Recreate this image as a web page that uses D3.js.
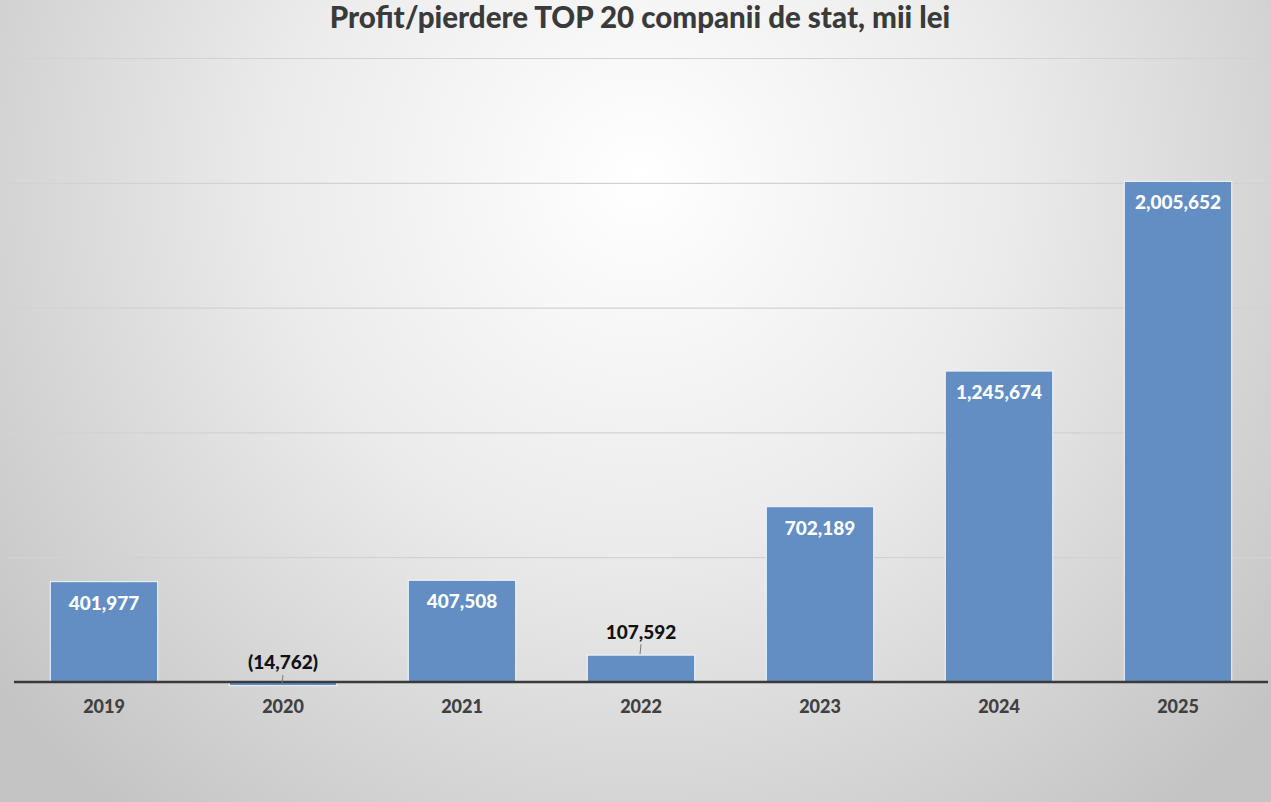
<!DOCTYPE html>
<html lang="ro">
<head>
    <meta charset="UTF-8">
    <title>Profit/pierdere TOP 20 companii de stat</title>
    <script src="https://d3js.org/d3.v7.min.js"></script>
    <style>
        html, body { margin: 0; padding: 0; overflow: hidden; }
        svg { display: block; font-family: Lato, "Open Sans", sans-serif; }
        .grid line { stroke: #d2d2d2; stroke-width: 1.2px; }
        .grid path { display: none; }
        .xaxis path, .xaxis line { display: none; }
        .xaxis text { font-family: Lato, "Open Sans", sans-serif; font-size: 18px; font-weight: 900; fill: #404040; }
    </style>
</head>
<body>
    <svg width="1271" height="802"></svg>
    <script>
        var years = ['2019', '2020', '2021', '2022', '2023', '2024', '2025'];
        var profits = [401977, -14762, 407508, 107592, 702189, 1245674, 2005652];
        var gridTicks = [500000, 1000000, 1500000, 2000000, 2500000];

        var data = years.map(function(y, i) { return { year: y, value: profits[i] }; });

        var svg = d3.select("svg"),
            W = 1271, H = 802;

        // background
        var defs = svg.append("defs");
        var bg = defs.append("radialGradient")
            .attr("id", "bg")
            .attr("gradientUnits", "userSpaceOnUse")
            .attr("cx", 640).attr("cy", 180).attr("r", 820);
        bg.append("stop").attr("offset", "0%").attr("stop-color", "#ffffff");
        bg.append("stop").attr("offset", "45%").attr("stop-color", "#ebebeb");
        bg.append("stop").attr("offset", "100%").attr("stop-color", "#c4c4c4");
        svg.append("rect").attr("width", W).attr("height", H).attr("fill", "url(#bg)");

        var x = d3.scaleBand()
            .domain(years)
            .range([14.5, 1267.5])
            .paddingInner(0.4)
            .paddingOuter(0.2);

        var y = d3.scaleLinear()
            .domain([0, 2500000])
            .range([682, 58]);

        svg.append("g")
            .attr("class", "grid")
            .attr("transform", "translate(8,0)")
            .call(d3.axisLeft(y).tickValues(gridTicks).tickSize(-1263).tickFormat(""));

        svg.selectAll(".bar")
            .data(data)
            .enter().append("rect")
            .attr("class", "bar")
            .attr("x", d => x(d.year))
            .attr("width", x.bandwidth())
            .attr("y", d => y(Math.max(0, d.value)))
            .attr("height", d => Math.max(2, Math.abs(y(d.value) - y(0))))
            .attr("fill", "#628ec4")
            .attr("stroke", "#f4f7fb")
            .attr("stroke-width", 1);

        // baseline
        svg.append("line")
            .attr("x1", 14).attr("x2", 1268)
            .attr("y1", y(0)).attr("y2", y(0))
            .attr("stroke", "#3a3a3a")
            .attr("stroke-width", 2.6);

        var fmt = function(v) {
            var s = d3.format(",")(Math.abs(v));
            return v < 0 ? "(" + s + ")" : s;
        };

        // labels: inside the tall bars, above the short ones
        var small = d => (y(0) - y(Math.max(0, d.value))) < 60;

        svg.selectAll(".lbl")
            .data(data)
            .enter().append("text")
            .attr("class", "lbl")
            .attr("x", d => x(d.year) + x.bandwidth() / 2)
            .attr("y", d => small(d)
                ? (d.value < 0 ? y(0) - 13 : y(d.value) - 16)
                : y(d.value) + 28)
            .attr("text-anchor", "middle")
            .attr("font-size", 19)
            .attr("font-weight", 900)
            .attr("fill", d => small(d) ? "#111" : "#fff")
            .text(d => fmt(d.value));

        // leader lines for the outside labels
        svg.selectAll(".leader")
            .data(data.filter(small))
            .enter().append("line")
            .attr("x1", d => x(d.year) + x.bandwidth() / 2)
            .attr("x2", d => x(d.year) + x.bandwidth() / 2 - 1)
            .attr("y1", d => d.value < 0 ? y(0) - 7 : y(d.value) - 11)
            .attr("y2", d => d.value < 0 ? y(0) + 2 : y(d.value) - 1)
            .attr("stroke", "#777")
            .attr("stroke-width", 1);

        svg.append("g")
            .attr("class", "xaxis")
            .attr("transform", "translate(0," + 697 + ")")
            .call(d3.axisBottom(x).tickSize(0).tickPadding(3));

        svg.append("text")
            .attr("x", 640)
            .attr("y", 28)
            .attr("text-anchor", "middle")
            .attr("font-size", 29.5)
            .attr("font-weight", 900)
            .attr("fill", "#3a3a3a")
            .text("Profit/pierdere TOP 20 companii de stat, mii lei");
    </script>
</body>
</html>
